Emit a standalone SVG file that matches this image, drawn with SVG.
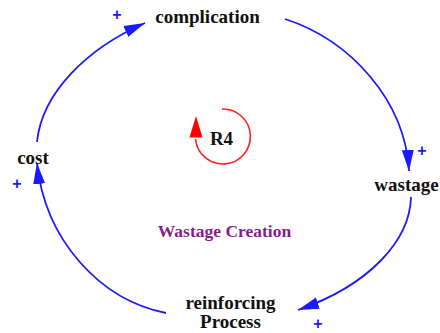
<svg xmlns="http://www.w3.org/2000/svg" width="440" height="333" viewBox="0 0 440 333">
<style>
.lbl{font-family:"Liberation Serif","Times New Roman",serif;font-weight:bold;font-size:19px;fill:#111;text-anchor:middle}
.plus{font-family:"Liberation Sans",Arial,sans-serif;font-weight:bold;font-size:16px;fill:#1a1aff;text-anchor:middle}
.link{fill:none;stroke:#1a1aff;stroke-width:1.8}
.title{font-family:"Liberation Serif","Times New Roman",serif;font-weight:bold;font-size:17.5px;fill:#8a1a8a;text-anchor:middle}
</style>
<defs>
<marker id="arr" markerUnits="userSpaceOnUse" markerWidth="22" markerHeight="14" refX="21" refY="7" orient="auto">
<path d="M0,1 L21,7 L0,13 z" fill="#1a1aff"/>
</marker>
</defs>
<g id="connectors">
<path class="link" d="M37,142 C42,92 88,48 145,23" marker-end="url(#arr)"/>
<path class="link" d="M285,19 C350,40 405,100 409,171" marker-end="url(#arr)"/>
<path class="link" d="M411,197 C410,240 370,285 298,310" marker-end="url(#arr)"/>
<path class="link" d="M166,313 C100,300 45,240 37,163" marker-end="url(#arr)"/>
</g>
<g id="complication"><text class="lbl" x="207.5" y="23">complication</text></g>
<g id="wastage"><text class="lbl" x="406.5" y="191">wastage</text></g>
<g id="reinforcing"><text class="lbl" x="230.5" y="309">reinforcing</text><text class="lbl" x="230.5" y="328">Process</text></g>
<g id="cost"><text class="lbl" x="33" y="164">cost</text></g>
<g id="polarities">
<text class="plus" x="117" y="19.5">+</text>
<text class="plus" x="422" y="155.5">+</text>
<text class="plus" x="318" y="328.5">+</text>
<text class="plus" x="17" y="188.5">+</text>
</g>
<g id="loop">
<path d="M222,109 A27.5,27.5 0 1 1 195.5,139" fill="none" stroke="#ff2020" stroke-width="1.6"/>
<path d="M196,116 L189.5,137.5 L202.5,137.5 z" fill="#ff0000"/>
<text class="lbl" x="221.5" y="145">R4</text>
</g>
<g id="title"><text class="title" x="224.5" y="237">Wastage Creation</text></g>
</svg>
